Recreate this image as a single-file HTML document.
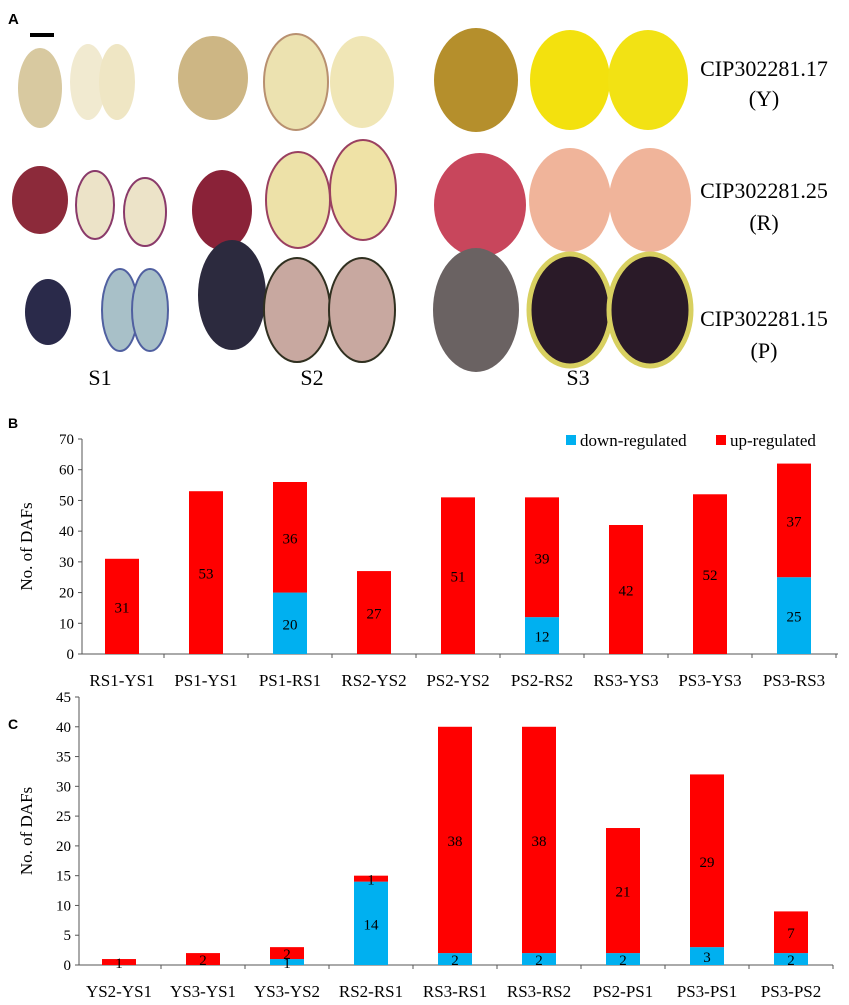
<!DOCTYPE html>
<html><head><meta charset="utf-8"><style>
body{margin:0;background:#fff;width:849px;height:1005px;overflow:hidden;font-family:"Liberation Serif",serif}
svg{position:absolute;left:0;top:0}
</style></head><body>
<svg width="849" height="1005">
<g>
<text x="8" y="24" font-family="Liberation Sans" font-weight="bold" font-size="15">A</text>
<rect x="30" y="33" width="24" height="4" fill="#000"/>
<!-- row Y -->
<ellipse cx="40" cy="88" rx="22" ry="40" fill="#d8c9a0"/>
<ellipse cx="88" cy="82" rx="18" ry="38" fill="#f1ead0"/><ellipse cx="117" cy="82" rx="18" ry="38" fill="#efe6c4"/>
<ellipse cx="213" cy="78" rx="35" ry="42" fill="#cdb684"/>
<ellipse cx="296" cy="82" rx="32" ry="48" fill="#ece2b0" stroke="#b89070" stroke-width="2"/><ellipse cx="362" cy="82" rx="32" ry="46" fill="#f0e6b6"/>
<ellipse cx="476" cy="80" rx="42" ry="52" fill="#b58f2c"/>
<ellipse cx="570" cy="80" rx="40" ry="50" fill="#f3e10e"/><ellipse cx="648" cy="80" rx="40" ry="50" fill="#f2e214"/>
<!-- row R -->
<ellipse cx="40" cy="200" rx="28" ry="34" fill="#8c2a3a"/>
<ellipse cx="95" cy="205" rx="19" ry="34" fill="#ece3c8" stroke="#8a3a6a" stroke-width="2"/><ellipse cx="145" cy="212" rx="21" ry="34" fill="#ece3c8" stroke="#8a3a6a" stroke-width="2"/>
<ellipse cx="222" cy="210" rx="30" ry="40" fill="#8a2238"/>
<ellipse cx="298" cy="200" rx="32" ry="48" fill="#ede1a8" stroke="#9a4060" stroke-width="2"/><ellipse cx="363" cy="190" rx="33" ry="50" fill="#efe2a6" stroke="#9a4060" stroke-width="2"/>
<ellipse cx="480" cy="205" rx="46" ry="52" fill="#c8465c"/>
<ellipse cx="570" cy="200" rx="41" ry="52" fill="#f0b49a"/><ellipse cx="650" cy="200" rx="41" ry="52" fill="#f0b49a"/>
<!-- row P -->
<ellipse cx="48" cy="312" rx="23" ry="33" fill="#2a2a4a"/>
<ellipse cx="120" cy="310" rx="18" ry="41" fill="#a8c0c8" stroke="#5060a0" stroke-width="2"/><ellipse cx="150" cy="310" rx="18" ry="41" fill="#a8c0c8" stroke="#5060a0" stroke-width="2"/>
<ellipse cx="232" cy="295" rx="34" ry="55" fill="#2c2a3e"/>
<ellipse cx="297" cy="310" rx="33" ry="52" fill="#c8a8a0" stroke="#303020" stroke-width="2"/><ellipse cx="362" cy="310" rx="33" ry="52" fill="#c8a8a0" stroke="#303020" stroke-width="2"/>
<ellipse cx="476" cy="310" rx="43" ry="62" fill="#6a6262"/>
<ellipse cx="570" cy="310" rx="41" ry="56" fill="#2a1a28" stroke="#d8d060" stroke-width="5"/><ellipse cx="650" cy="310" rx="41" ry="56" fill="#2a1a28" stroke="#d8d060" stroke-width="5"/>
<g font-size="22" text-anchor="middle">
<text x="764" y="76">CIP302281.17</text><text x="764" y="106">(Y)</text>
<text x="764" y="198">CIP302281.25</text><text x="764" y="230">(R)</text>
<text x="764" y="326">CIP302281.15</text><text x="764" y="358">(P)</text>
<text x="100" y="385">S1</text>
<text x="312" y="385">S2</text>
<text x="578" y="385">S3</text>
</g>
</g>
<g id="chartB"></g>
<g id="chartC"></g>
</svg>
<script>
const catsB=["RS1-YS1","PS1-YS1","PS1-RS1","RS2-YS2","PS2-YS2","PS2-RS2","RS3-YS3","PS3-YS3","PS3-RS3"];
const downB=[0,0,20,0,0,12,0,0,25];
const upB=[31,53,36,27,51,39,42,52,37];
const ticksB=[0,10,20,30,40,50,60,70];
const catsC=["YS2-YS1","YS3-YS1","YS3-YS2","RS2-RS1","RS3-RS1","RS3-RS2","PS2-PS1","PS3-PS1","PS3-PS2"];
const downC=[0,0,1,14,2,2,2,3,2];
const upC=[1,2,2,1,38,38,21,29,7];
const ticksC=[0,5,10,15,20,25,30,35,40,45];
const NS="http://www.w3.org/2000/svg";
function mk(p,t,a){const e=document.createElementNS(NS,t);for(const k in a)e.setAttribute(k,a[k]);p.appendChild(e);return e;}
function draw(g,letter,cats,down,up,ticks,cfg){
 const y=v=>cfg.y0-(v-ticks[0])/(ticks[ticks.length-1]-ticks[0])*(cfg.y0-cfg.yTop);
 const x=i=>cfg.x0+cfg.first+i*cfg.step;
 const l=mk(g,'text',{x:8,y:cfg.labelY,'font-family':'Liberation Sans','font-weight':'bold','font-size':14});l.textContent=letter;
 
 
 const ya=mk(g,'line',{x1:cfg.x0,y1:cfg.yTop,x2:cfg.x0,y2:cfg.y0,stroke:'#555'});
 
 
 const xa=mk(g,'line',{x1:cfg.x0,y1:cfg.y0,x2:cfg.x1,y2:cfg.y0,stroke:'#555'});
 
 
 ticks.forEach(t=>{mk(g,'line',{x1:cfg.x0-4,y1:y(t),x2:cfg.x0,y2:y(t),stroke:'#555'});
  const tx=mk(g,'text',{x:cfg.x0-8,y:y(t)+5,'text-anchor':'end','font-size':15});tx.textContent=t;
  
  });
 for(let i=0;i<=cats.length;i++){const xx=cfg.x0+i*cfg.step+(cfg.first-cfg.step/2);if(xx>cfg.x0)mk(g,'line',{x1:xx,y1:cfg.y0,x2:xx,y2:cfg.y0+4,stroke:'#555'});}
 const yt=mk(g,'text',{transform:`translate(${cfg.titleX},${(cfg.y0+cfg.yTop)/2}) rotate(-90)`,'text-anchor':'middle','font-size':17});yt.textContent='No. of DAFs';
 
 
 cats.forEach((c,i)=>{const cx=x(i),w=cfg.bw;
  if(down[i]>0){const r=mk(g,'rect',{x:cx-w/2,y:y(down[i]),width:w,height:y(0)-y(down[i]),fill:'#00b0f0'});
   
   }
  const r2=mk(g,'rect',{x:cx-w/2,y:y(down[i]+up[i]),width:w,height:y(down[i])-y(down[i]+up[i]),fill:'#ff0000'});
  
  
  const t1=mk(g,'text',{x:cx,y:(y(down[i])+y(down[i]+up[i]))/2+6,'text-anchor':'middle','font-size':15});t1.textContent=up[i];
  
  
  if(down[i]>0){const t2=mk(g,'text',{x:cx,y:(y(0)+y(down[i]))/2+6,'text-anchor':'middle','font-size':15});t2.textContent=down[i];
   
   }
  const xl=mk(g,'text',{x:cx,y:cfg.y0+32,'text-anchor':'middle','font-size':17});xl.textContent=c;
  
  });
}
draw(document.getElementById('chartB'),'B',catsB,downB,upB,ticksB,{x0:82,x1:838,y0:654,yTop:439,first:40,step:84,bw:34,labelY:428,titleX:32});
draw(document.getElementById('chartC'),'C',catsC,downC,upC,ticksC,{x0:79,x1:833,y0:965,yTop:697,first:40,step:84,bw:34,labelY:729,titleX:32});
const gb=document.getElementById('chartB');
const l1=mk(gb,'rect',{x:566,y:435,width:10,height:10,fill:'#00b0f0'});


const lt1=mk(gb,'text',{x:580,y:446,'font-size':17});lt1.textContent='down-regulated';


const l2=mk(gb,'rect',{x:716,y:435,width:10,height:10,fill:'#ff0000'});


const lt2=mk(gb,'text',{x:730,y:446,'font-size':17});lt2.textContent='up-regulated';


</script>
</body></html>
